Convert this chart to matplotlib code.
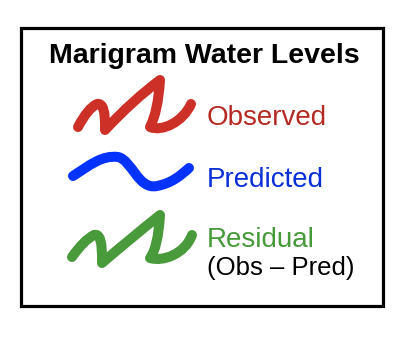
import matplotlib.pyplot as plt
from matplotlib.patches import Rectangle, PathPatch
from matplotlib.path import Path

plt.rcParams['font.family'] = ['Liberation Sans', 'DejaVu Sans']

title = "Marigram Water Levels"
labels = ["Observed", "Predicted", "Residual"]
sublabel = "(Obs \u2013 Pred)"
colors = ["#CC3026", "#0433FF", "#489A3A"]
text_colors = ["#B52A22", "#0A2FD6", "#469A3A"]

# hand-drawn squiggles: bezier points (pixels)
obs_pts = [(78, 127), (88, 108), (97, 104), (106, 102), (105, 130),
           (133, 100), (160, 80), (158, 112), (150, 127),
           (162, 132), (183, 122), (191, 104)]
pred_pts = [(73, 176), (90, 165), (102, 155), (118, 157),
            (132, 160), (138, 190), (157, 186),
            (172, 183), (180, 176), (189, 168)]
res_pts = [(72, 257), (84, 240), (94, 235), (103, 232), (102, 263),
           (131, 238), (160, 215), (158, 248), (150, 258),
           (163, 262), (185, 254), (192, 235)]

squiggle_codes = [Path.MOVETO, Path.CURVE3, Path.CURVE3, Path.CURVE3, Path.CURVE3,
                  Path.CURVE3, Path.CURVE3, Path.CURVE3, Path.CURVE3,
                  Path.CURVE4, Path.CURVE4, Path.CURVE4]
wave_codes = [Path.MOVETO, Path.CURVE4, Path.CURVE4, Path.CURVE4,
              Path.CURVE4, Path.CURVE4, Path.CURVE4,
              Path.CURVE4, Path.CURVE4, Path.CURVE4]

fig = plt.figure(figsize=(4.12, 3.42), dpi=100)
ax = fig.add_axes([0, 0, 1, 1])
ax.set_xlim(0, 412)
ax.set_ylim(342, 0)
ax.axis('off')

ax.add_patch(Rectangle((21, 28), 362, 278, fill=False, edgecolor='black', lw=2.3))

ax.text(204.5, 63, title, fontsize=20.5, fontweight='bold', ha='center', va='baseline')

curves = [(obs_pts, squiggle_codes), (pred_pts, wave_codes), (res_pts, squiggle_codes)]
for (pts, codes), c in zip(curves, colors):
    p = PathPatch(Path(pts, codes), fill=False, edgecolor=c, lw=7.2,
                  capstyle='round', joinstyle='round')
    ax.add_patch(p)

baselines = [125, 187, 247]
for lab, tc, yb in zip(labels, text_colors, baselines):
    ax.text(207, yb, lab, fontsize=20, color=tc, ha='left', va='baseline')

ax.text(207, 275, sublabel, fontsize=18.5, color='black', ha='left', va='baseline')

fig.savefig("out.png", dpi=100)
